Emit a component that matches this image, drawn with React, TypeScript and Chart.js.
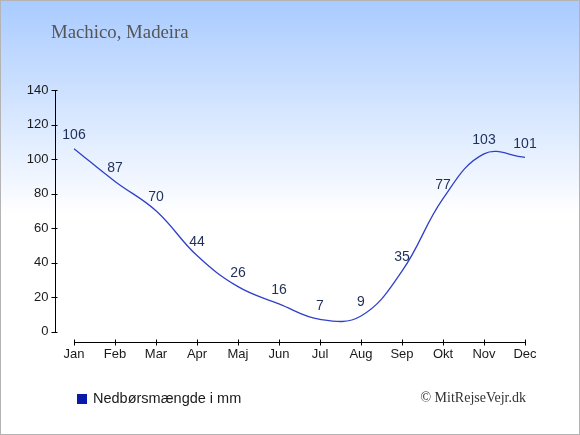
import React, { useEffect, useRef } from "react";
import { Chart, registerables } from "chart.js";

Chart.register(...registerables);

const months = ["Jan", "Feb", "Mar", "Apr", "Maj", "Jun", "Jul", "Aug", "Sep", "Okt", "Nov", "Dec"];
const rainfall = [106, 87, 70, 44, 26, 16, 7, 9, 35, 77, 103, 101];
const yTicks = [0, 20, 40, 60, 80, 100, 120, 140];
const titleText = "Machico, Madeira";
const seriesLabel = "Nedbørsmængde i mm";
const creditText = "© MitRejseVejr.dk";

const W = 580;
const H = 435;

const decorPlugin = {
  id: "decor",
  beforeDraw(chart: any) {
    const ctx = chart.ctx;
    ctx.save();
    const g = ctx.createLinearGradient(0, 0, 0, 215);
    g.addColorStop(0, "#a9cbff");
    g.addColorStop(1, "#ffffff");
    ctx.fillStyle = "#ffffff";
    ctx.fillRect(0, 0, W, H);
    ctx.fillStyle = g;
    ctx.fillRect(0, 0, W, 215);
    ctx.strokeStyle = "#b4b4b4";
    ctx.lineWidth = 1;
    ctx.strokeRect(0.5, 0.5, W - 1, H - 1);
    ctx.restore();
  },
  afterDraw(chart: any) {
    const ctx = chart.ctx;
    const xs = chart.scales.x;
    const ys = chart.scales.y;
    const area = chart.chartArea;
    ctx.save();
    ctx.strokeStyle = "#000000";
    ctx.lineWidth = 1;

    // Y axis
    const ax = Math.round(area.left - 19) + 0.5;
    const yTop = ys.getPixelForValue(yTicks[yTicks.length - 1]);
    const yBot = ys.getPixelForValue(yTicks[0]);
    ctx.beginPath();
    ctx.moveTo(ax, Math.round(yTop));
    ctx.lineTo(ax, Math.round(yBot) + 1);
    yTicks.forEach((v) => {
      const py = Math.round(ys.getPixelForValue(v)) + 0.5;
      ctx.moveTo(ax - 4, py);
      ctx.lineTo(ax + 2, py);
    });
    ctx.stroke();
    ctx.fillStyle = "#1a1a1a";
    ctx.font = "13px 'Liberation Sans', Arial, sans-serif";
    ctx.textAlign = "right";
    ctx.textBaseline = "middle";
    yTicks.forEach((v) => {
      ctx.fillText(String(v), ax - 7, ys.getPixelForValue(v));
    });

    // X axis
    const ay = Math.round(area.bottom + 10) + 0.5;
    const x0 = xs.getPixelForValue(0);
    const x1 = xs.getPixelForValue(months.length - 1);
    ctx.beginPath();
    ctx.moveTo(Math.round(x0), ay);
    ctx.lineTo(Math.round(x1) + 1, ay);
    months.forEach((_, i) => {
      const px = Math.round(xs.getPixelForValue(i)) + 0.5;
      ctx.moveTo(px, ay - 3);
      ctx.lineTo(px, ay + 3);
    });
    ctx.stroke();
    ctx.textAlign = "center";
    ctx.textBaseline = "alphabetic";
    months.forEach((m, i) => {
      ctx.fillText(m, xs.getPixelForValue(i), ay + 15);
    });

    // Data labels
    const meta = chart.getDatasetMeta(0);
    ctx.fillStyle = "#1f3058";
    ctx.font = "14px 'Liberation Sans', Arial, sans-serif";
    ctx.textAlign = "center";
    ctx.textBaseline = "middle";
    meta.data.forEach((pt: any, i: number) => {
      ctx.fillText(String(rainfall[i]), pt.x, pt.y - 13.5);
    });

    // Title
    ctx.fillStyle = "#555555";
    ctx.font = "18.8px 'Liberation Serif', 'Times New Roman', serif";
    ctx.textAlign = "left";
    ctx.textBaseline = "alphabetic";
    ctx.fillText(titleText, 51, 38);

    // Legend
    ctx.fillStyle = "#0a1aa8";
    ctx.fillRect(77, 394, 10, 10);
    ctx.fillStyle = "#1a1a1a";
    ctx.font = "14.5px 'Liberation Sans', Arial, sans-serif";
    ctx.fillText(seriesLabel, 93, 402.5);

    // Credit
    ctx.fillStyle = "#333333";
    ctx.font = "14px 'Liberation Serif', 'Times New Roman', serif";
    ctx.textAlign = "right";
    ctx.fillText(creditText, 526, 402);

    ctx.restore();
  },
};

export default function App() {
  const ref = useRef<HTMLCanvasElement | null>(null);
  useEffect(() => {
    document.body.style.margin = "0";
    if (!ref.current) return;
    const chart = new Chart(ref.current, {
      type: "line",
      data: {
        labels: months,
        datasets: [
          {
            label: seriesLabel,
            data: rainfall,
            borderColor: "#3040c8",
            borderWidth: 1.3,
            pointRadius: 0,
            fill: false,
            tension: 0.4,
          },
        ],
      },
      options: {
        responsive: false,
        animation: false,
        devicePixelRatio: 1,
        layout: { padding: { left: 74, right: 55, top: 90, bottom: 103.5 } },
        scales: {
          x: { display: false, offset: false },
          y: { display: false, min: 0, max: 140 },
        },
        plugins: {
          legend: { display: false },
          title: { display: false },
          tooltip: { enabled: false },
        },
      },
      plugins: [decorPlugin],
    });
    return () => chart.destroy();
  }, []);
  return <canvas ref={ref} width={W} height={H} style={{ display: "block" }} />;
}
